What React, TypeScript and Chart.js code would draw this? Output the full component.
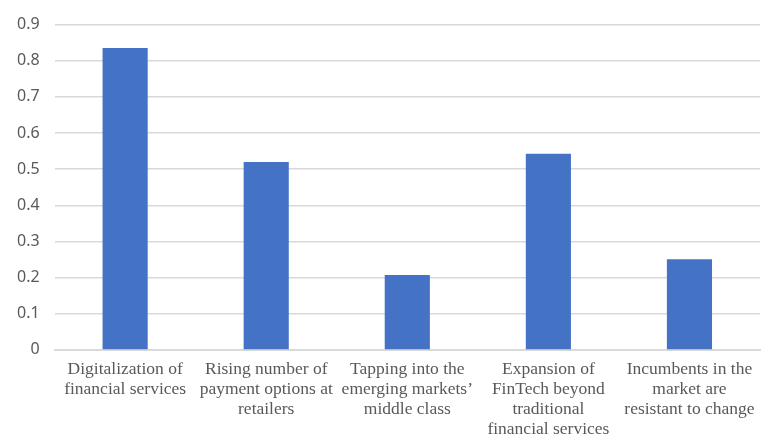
import React, { useEffect, useRef } from "react";
import { Chart, registerables } from "chart.js";

Chart.register(...registerables);

const categories: string[][] = [
  ["Digitalization of", "financial services"],
  ["Rising number of", "payment options at", "retailers"],
  ["Tapping into the", "emerging markets’", "middle class"],
  ["Expansion of", "FinTech beyond", "traditional", "financial services"],
  ["Incumbents in the", "market are", "resistant to change"],
];
const values: number[] = [0.835, 0.52, 0.207, 0.543, 0.251];

export default function App() {
  const ref = useRef<HTMLCanvasElement>(null);
  useEffect(() => {
    document.body.style.margin = "0";
    const chart = new Chart(ref.current!, {
      type: "bar",
      data: {
        labels: categories,
        datasets: [
          {
            data: values,
            backgroundColor: "#4472C4",
            barPercentage: 0.32,
            categoryPercentage: 1,
          },
        ],
      },
      options: {
        animation: false,
        responsive: false,
        maintainAspectRatio: false,
        layout: { padding: { left: 2, right: 4, top: 11, bottom: -4 } },
        plugins: { legend: { display: false }, tooltip: { enabled: false } },
        scales: {
          x: {
            grid: { display: false },
            border: { display: true, color: "#d9d9d9", width: 2 },
            ticks: {
              color: "#595959",
              font: { family: "Liberation Serif", size: 17.5, lineHeight: 1.13 },
              maxRotation: 0,
              autoSkip: false,
              padding: 2,
            },
          },
          y: {
            min: 0,
            max: 0.9,
            ticks: {
              stepSize: 0.1,
              color: "#595959",
              font: { family: "Noto Sans", size: 16 },
              padding: 15,
              callback: (v: any) => (Math.round(Number(v) * 10) / 10).toString(),
            },
            grid: { color: "#d9d9d9", lineWidth: 1.5, drawTicks: false },
            border: { display: false },
          },
        },
      },
    });
    return () => chart.destroy();
  }, []);
  return (
    <div style={{ position: "fixed", left: 0, top: 0, width: 764, height: 437 }}>
      <canvas ref={ref} width={764} height={437} style={{ width: 764, height: 437 }} />
    </div>
  );
}
